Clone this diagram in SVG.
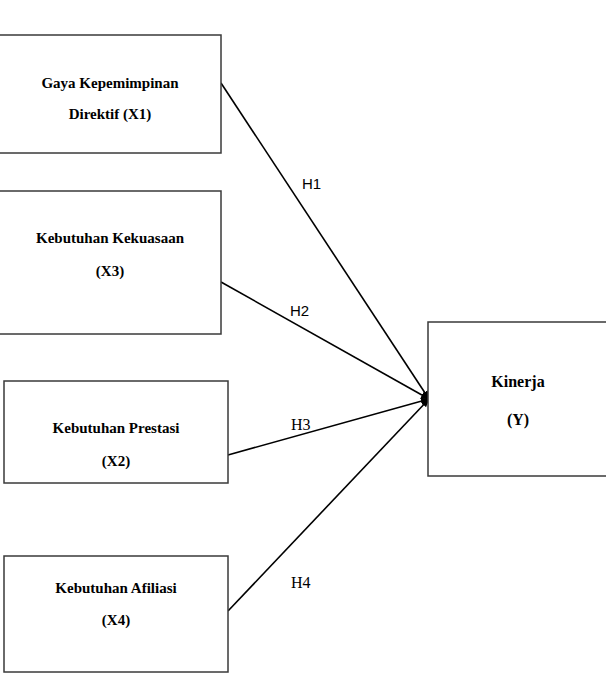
<svg xmlns="http://www.w3.org/2000/svg" width="606" height="686" viewBox="0 0 606 686">
<style>
.box{fill:#fff;stroke:#3a3a3a;stroke-width:1.5}
.t{font-family:"Liberation Serif","Times New Roman",serif;font-weight:bold;font-size:15px;fill:#000;text-anchor:middle}
.k{font-size:16px}
.ln{stroke:#000;stroke-width:1.6;fill:none;marker-end:url(#ah)}
.hs{font-family:"Liberation Sans",Arial,sans-serif;font-size:15px;fill:#000}
.hr{font-family:"Liberation Serif","Times New Roman",serif;font-size:16px;fill:#000}
</style>
<defs>
<marker id="ah" viewBox="0 0 10 10" refX="9" refY="5" markerWidth="9" markerHeight="9" markerUnits="userSpaceOnUse" orient="auto">
<path d="M0,1 L10,5 L0,9 Z" fill="#000"/>
</marker>
</defs>
<rect width="606" height="686" fill="#fff"/>
<g id="connectors">
<line class="ln" x1="221" y1="83" x2="429" y2="399"/>
<line class="ln" x1="221" y1="282" x2="429" y2="399"/>
<line class="ln" x1="228" y1="455" x2="429" y2="399"/>
<line class="ln" x1="228" y1="611" x2="429" y2="399"/>
<text class="hs" x="302" y="189">H1</text>
<text class="hs" x="290" y="316">H2</text>
<text class="hr" x="291" y="430">H3</text>
<text class="hr" x="291" y="588">H4</text>
</g>
<g id="x1">
<rect class="box" x="-1" y="35" width="222" height="118"/>
<text class="t" x="110" y="88">Gaya Kepemimpinan</text>
<text class="t" x="110" y="119">Direktif (X1)</text>
</g>
<g id="x3">
<rect class="box" x="-1" y="191" width="222" height="143"/>
<text class="t" x="110" y="243">Kebutuhan Kekuasaan</text>
<text class="t" x="110" y="276">(X3)</text>
</g>
<g id="x2">
<rect class="box" x="4" y="381" width="224" height="102"/>
<text class="t" x="116" y="433">Kebutuhan Prestasi</text>
<text class="t" x="116" y="466">(X2)</text>
</g>
<g id="x4">
<rect class="box" x="4" y="556" width="224" height="116"/>
<text class="t" x="116" y="593">Kebutuhan Afiliasi</text>
<text class="t" x="116" y="625">(X4)</text>
</g>
<g id="y">
<rect class="box" x="428" y="322" width="180" height="154"/>
<text class="t k" x="518" y="387">Kinerja</text>
<text class="t k" x="518" y="425">(Y)</text>
</g>
</svg>
